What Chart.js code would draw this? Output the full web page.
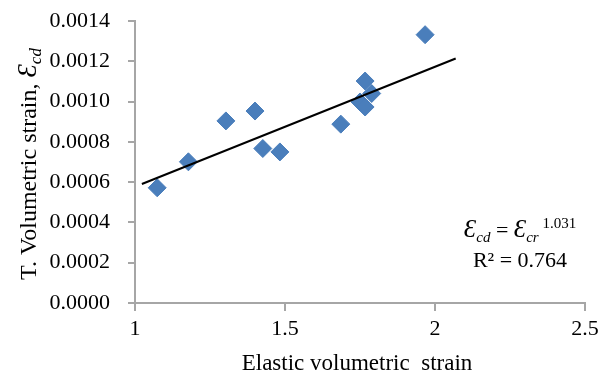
<!DOCTYPE html>
<html>
<head>
<meta charset="utf-8">
<script src="https://cdn.jsdelivr.net/npm/chart.js@4"></script>
<style>
  body { margin: 0; background: #fff; }
  #wrap { width: 606px; height: 376px; }
</style>
</head>
<body>
<div id="wrap"><canvas id="chart"></canvas></div>
<script>
// measured points (elastic vs total volumetric strain)
const strainX = [1.074, 1.178, 1.303, 1.400, 1.426, 1.483, 1.686, 1.750, 1.767, 1.767, 1.789, 1.967];
const strainY = [0.000572, 0.000701, 0.000904, 0.000953, 0.000767, 0.000750, 0.000888, 0.000998, 0.001102, 0.000973, 0.001040, 0.001332];

// power trendline, end points
const trendX = [1.023, 2.069];
const trendY = [0.000591, 0.001214];

const xTicks = [1, 1.5, 2, 2.5];
const yTicks = [0, 0.0002, 0.0004, 0.0006, 0.0008, 0.0010, 0.0012, 0.0014];

const xTitle = 'Elastic volumetric  strain';
const yTitle = 'T. Volumetric strain, ';
const fitExp = '1.031';
const fitR2 = 'R\u00b2 = 0.764';

const serif = '"Liberation Serif", "Times New Roman", serif';
const axisGray = '#a6a6a6';

// draws runs of text [str, font, dy] one after another
function drawRuns(ctx, runs, x, y, align) {
  let total = 0;
  runs.forEach(r => { ctx.font = r[1]; total += ctx.measureText(r[0]).width; });
  let cx = align === 'center' ? x - total / 2 : x;
  ctx.textAlign = 'left';
  ctx.textBaseline = 'alphabetic';
  runs.forEach(r => {
    ctx.font = r[1];
    ctx.fillText(r[0], cx, y + (r[2] || 0));
    cx += ctx.measureText(r[0]).width;
  });
}

const textPlugin = {
  id: 'texts',
  afterDraw(chart) {
    const ctx = chart.ctx;
    ctx.save();
    ctx.fillStyle = '#000';

    ctx.font = '23px ' + serif;
    ctx.textAlign = 'center';
    ctx.textBaseline = 'alphabetic';
    ctx.fillText(xTitle, 357, 370);

    // y title, rotated
    ctx.save();
    ctx.translate(36, 164);
    ctx.rotate(-Math.PI / 2);
    drawRuns(ctx, [
      [yTitle, '24px ' + serif, 0],
      ['\u0190', 'italic 27px ' + serif, 0],
      ['cd', 'italic 17px ' + serif, 5]
    ], 0, 0, 'center');
    ctx.restore();

    // fit equation
    drawRuns(ctx, [
      ['\u0190', 'italic 25px ' + serif, 0],
      ['cd', 'italic 15px ' + serif, 5],
      [' = ', '22px ' + serif, 0],
      ['\u0190', 'italic 25px ' + serif, 0],
      ['cr', 'italic 15px ' + serif, 5],
      [' ' + fitExp, '15px ' + serif, -9]
    ], 520, 237, 'center');
    ctx.font = '22px ' + serif;
    ctx.textAlign = 'center';
    ctx.fillText(fitR2, 520, 267);
    ctx.restore();
  }
};

const points = strainX.map((x, i) => ({ x: x, y: strainY[i] }));
const trend = trendX.map((x, i) => ({ x: x, y: trendY[i] }));

new Chart(document.querySelector('#chart').getContext('2d'), {
  type: 'scatter',
  data: {
    datasets: [
      {
        label: 'data',
        data: points,
        pointStyle: 'rectRot',
        pointRadius: 9,
        backgroundColor: '#4a7ebb',
        borderColor: '#4a7ebb',
        borderWidth: 1,
        order: 2
      },
      {
        label: 'trend',
        type: 'line',
        data: trend,
        borderColor: '#000',
        borderWidth: 2,
        pointRadius: 0,
        fill: false,
        order: 1
      }
    ]
  },
  options: {
    responsive: true,
    maintainAspectRatio: false,
    animation: false,
    layout: { autoPadding: false, padding: { left: 0, top: 21, right: 21, bottom: 0 } },
    plugins: {
      legend: { display: false },
      tooltip: { enabled: false }
    },
    scales: {
      x: {
        type: 'linear',
        min: 1,
        max: 2.5,
        afterBuildTicks: s => { s.ticks = xTicks.map(v => ({ value: v })); },
        afterFit: s => { s.height = 73; s.paddingLeft = 0; s.paddingRight = 0; },
        ticks: {
          color: '#000',
          font: { family: serif, size: 22 },
          padding: 5,
          callback: v => String(v)
        },
        grid: { drawOnChartArea: false, tickLength: 8, color: axisGray, lineWidth: 2 },
        border: { color: axisGray, width: 2 }
      },
      y: {
        type: 'linear',
        min: 0,
        max: 0.0014,
        afterBuildTicks: s => { s.ticks = yTicks.map(v => ({ value: v })); },
        afterFit: s => { s.width = 135; s.paddingTop = 0; s.paddingBottom = 0; },
        ticks: {
          color: '#000',
          font: { family: serif, size: 22 },
          padding: 18,
          callback: v => Number(v).toFixed(4)
        },
        grid: { drawOnChartArea: false, tickLength: 7, color: axisGray, lineWidth: 2 },
        border: { color: axisGray, width: 2 }
      }
    }
  },
  plugins: [textPlugin]
});
</script>
</body>
</html>
